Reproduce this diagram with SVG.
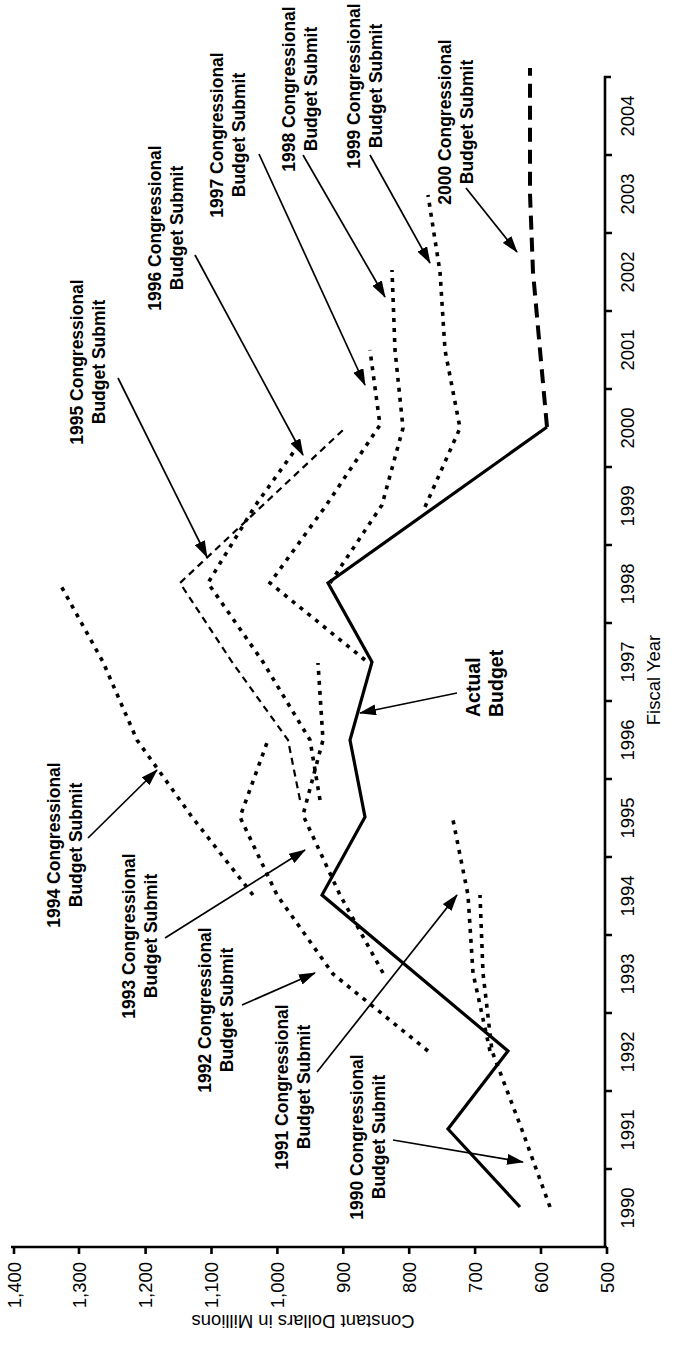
<svg xmlns="http://www.w3.org/2000/svg" width="677" height="1346" viewBox="0 0 677 1346">
<style>
.lbl{font-family:"Liberation Sans",Arial,Helvetica,sans-serif;font-weight:bold;font-size:17.5px;fill:#000}
.act{font-family:"Liberation Sans",Arial,Helvetica,sans-serif;font-weight:bold;font-size:19.5px;fill:#000}
.tk{font-family:"Liberation Sans",Arial,Helvetica,sans-serif;font-size:18.5px;fill:#000}
.axis{fill:none;stroke:#000;stroke-width:2.6}
.solid{fill:none;stroke:#000;stroke-width:3.2;stroke-linejoin:miter}
.dot{fill:none;stroke:#000;stroke-width:3.6;stroke-dasharray:4 6}
.thin{fill:none;stroke:#000;stroke-width:2.2;stroke-dasharray:7 5}
.ldash{fill:none;stroke:#000;stroke-width:4;stroke-dasharray:14 8}
.arr{fill:none;stroke:#000;stroke-width:1.7;marker-end:url(#ah)}
</style>
<defs>
<marker id="ah" viewBox="0 0 17 11" refX="16" refY="5.5" markerWidth="17" markerHeight="11" markerUnits="userSpaceOnUse" orient="auto">
<path d="M0,0 L17,5.5 L0,11 z" fill="#000"/>
</marker>
</defs>
<rect width="677" height="1346" fill="#fff"/>

<g id="axes">
<path class="axis" d="M11,1247 H607 M605,1248 V77 H611"/>
<path class="axis" d="M14,1247 v7 M79,1247 v7 M145.6,1247 v7 M211.5,1247 v7 M277.4,1247 v7 M343.3,1247 v7 M409.2,1247 v7 M475.1,1247 v7 M541,1247 v7 M607,1247 v7"/>
<path class="axis" d="M605,1169 h7 M605,1091 h7 M605,1013 h7 M605,935 h7 M605,857 h7 M605,779 h7 M605,701 h7 M605,623 h7 M605,545 h7 M605,467 h7 M605,389 h7 M605,311 h7 M605,233 h7 M605,155 h7"/>
<g class="tk" text-anchor="end">
<text transform="translate(20.5,1262) rotate(-90)">1,400</text>
<text transform="translate(85.5,1262) rotate(-90)">1,300</text>
<text transform="translate(152,1262) rotate(-90)">1,200</text>
<text transform="translate(218,1262) rotate(-90)">1,100</text>
<text transform="translate(284,1262) rotate(-90)">1,000</text>
<text transform="translate(350,1262) rotate(-90)">900</text>
<text transform="translate(416,1262) rotate(-90)">800</text>
<text transform="translate(482,1262) rotate(-90)">700</text>
<text transform="translate(547.5,1262) rotate(-90)">600</text>
<text transform="translate(613.5,1262) rotate(-90)">500</text>
</g>
<g class="tk" text-anchor="middle">
<text transform="translate(634,1208) rotate(-90)">1990</text>
<text transform="translate(634,1130) rotate(-90)">1991</text>
<text transform="translate(634,1052) rotate(-90)">1992</text>
<text transform="translate(634,974) rotate(-90)">1993</text>
<text transform="translate(634,896) rotate(-90)">1994</text>
<text transform="translate(634,818) rotate(-90)">1995</text>
<text transform="translate(634,740) rotate(-90)">1996</text>
<text transform="translate(634,662) rotate(-90)">1997</text>
<text transform="translate(634,584) rotate(-90)">1998</text>
<text transform="translate(634,506) rotate(-90)">1999</text>
<text transform="translate(634,428) rotate(-90)">2000</text>
<text transform="translate(634,350) rotate(-90)">2001</text>
<text transform="translate(634,272) rotate(-90)">2002</text>
<text transform="translate(634,194) rotate(-90)">2003</text>
<text transform="translate(634,116) rotate(-90)">2004</text>
<text transform="translate(660,680) rotate(-90)">Fiscal Year</text>
<text transform="translate(303,1315) rotate(180)">Constant Dollars in Millions</text>
</g>
</g>

<g id="series">
<polyline id="s-actual" class="solid" points="520,1207 448,1129 508,1051 322,895 365,817 350,740 372,662 328,583 547,427"/>
<polyline id="s-1990" class="dot" points="550,1207 522,1130 492,1051 483,973 480,895"/>
<polyline id="s-1991" class="dot" points="490,1051 473,973 468,895 452,815"/>
<polyline id="s-1992" class="dot" points="428,1051 333,974 277,895 240,817 268,740"/>
<polyline id="s-1993" class="dot" points="383,973 340,895 303,815 323,740 318,663"/>
<polyline id="s-1994" class="dot" points="253,895 192,817 137,740 103,662 60,584"/>
<polyline id="s-1995" class="thin" points="300,800 288,740 232,662 180,583 262,506 343,430"/>
<polyline id="s-1996" class="dot" points="320,800 310,740 263,662 208,583 255,506 300,443"/>
<polyline id="s-1997" class="dot" points="365,660 270,583 325,507 380,425 370,350"/>
<polyline id="s-1998" class="dot" points="330,583 382,505 403,428 395,350 392,270"/>
<polyline id="s-1999" class="dot" points="425,507 460,428 445,350 440,272 428,195"/>
<polyline id="s-2000" class="ldash" points="547,427 540,350 533,272 530,194 530,68"/>
</g>

<g id="labels">
<g id="n-1990"><text class="lbl" text-anchor="middle" transform="translate(363,1137) rotate(-90)">1990 Congressional</text><text class="lbl" text-anchor="middle" transform="translate(384.5,1137) rotate(-90)">Budget Submit</text></g>
<g id="n-1991"><text class="lbl" text-anchor="middle" transform="translate(288,1087) rotate(-90)">1991 Congressional</text><text class="lbl" text-anchor="middle" transform="translate(309.5,1087) rotate(-90)">Budget Submit</text></g>
<g id="n-1992"><text class="lbl" text-anchor="middle" transform="translate(211,1010) rotate(-90)">1992 Congressional</text><text class="lbl" text-anchor="middle" transform="translate(232.5,1010) rotate(-90)">Budget Submit</text></g>
<g id="n-1993"><text class="lbl" text-anchor="middle" transform="translate(135,936) rotate(-90)">1993 Congressional</text><text class="lbl" text-anchor="middle" transform="translate(156.5,936) rotate(-90)">Budget Submit</text></g>
<g id="n-1994"><text class="lbl" text-anchor="middle" transform="translate(60,845) rotate(-90)">1994 Congressional</text><text class="lbl" text-anchor="middle" transform="translate(81.5,845) rotate(-90)">Budget Submit</text></g>
<g id="n-1995"><text class="lbl" text-anchor="middle" transform="translate(83,362) rotate(-90)">1995 Congressional</text><text class="lbl" text-anchor="middle" transform="translate(104.5,362) rotate(-90)">Budget Submit</text></g>
<g id="n-1996"><text class="lbl" text-anchor="middle" transform="translate(161,228) rotate(-90)">1996 Congressional</text><text class="lbl" text-anchor="middle" transform="translate(182.5,228) rotate(-90)">Budget Submit</text></g>
<g id="n-1997"><text class="lbl" text-anchor="middle" transform="translate(223,135) rotate(-90)">1997 Congressional</text><text class="lbl" text-anchor="middle" transform="translate(244.5,135) rotate(-90)">Budget Submit</text></g>
<g id="n-1998"><text class="lbl" text-anchor="middle" transform="translate(295,89) rotate(-90)">1998 Congressional</text><text class="lbl" text-anchor="middle" transform="translate(316.5,89) rotate(-90)">Budget Submit</text></g>
<g id="n-1999"><text class="lbl" text-anchor="middle" transform="translate(360,86) rotate(-90)">1999 Congressional</text><text class="lbl" text-anchor="middle" transform="translate(381.5,86) rotate(-90)">Budget Submit</text></g>
<g id="n-2000"><text class="lbl" text-anchor="middle" transform="translate(451,122) rotate(-90)">2000 Congressional</text><text class="lbl" text-anchor="middle" transform="translate(472.5,122) rotate(-90)">Budget Submit</text></g>
<g id="n-actual"><text class="act" transform="translate(480,717) rotate(-90)">Actual</text><text class="act" transform="translate(503,717) rotate(-90)">Budget</text></g>
</g>

<g id="connectors">
<line class="arr" x1="393" y1="1140" x2="523" y2="1162"/>
<line class="arr" x1="317" y1="1072" x2="457" y2="895"/>
<line class="arr" x1="242" y1="1005" x2="315" y2="973"/>
<line class="arr" x1="165" y1="938" x2="305" y2="850"/>
<line class="arr" x1="88" y1="838" x2="157" y2="770"/>
<line class="arr" x1="118" y1="378" x2="207" y2="557"/>
<line class="arr" x1="195" y1="255" x2="303" y2="455"/>
<line class="arr" x1="259" y1="154" x2="365" y2="385"/>
<line class="arr" x1="303" y1="155" x2="385" y2="297"/>
<line class="arr" x1="370" y1="155" x2="430" y2="263"/>
<line class="arr" x1="466" y1="188" x2="517" y2="252"/>
<line class="arr" x1="457" y1="693" x2="360" y2="713"/>
</g>
</svg>
